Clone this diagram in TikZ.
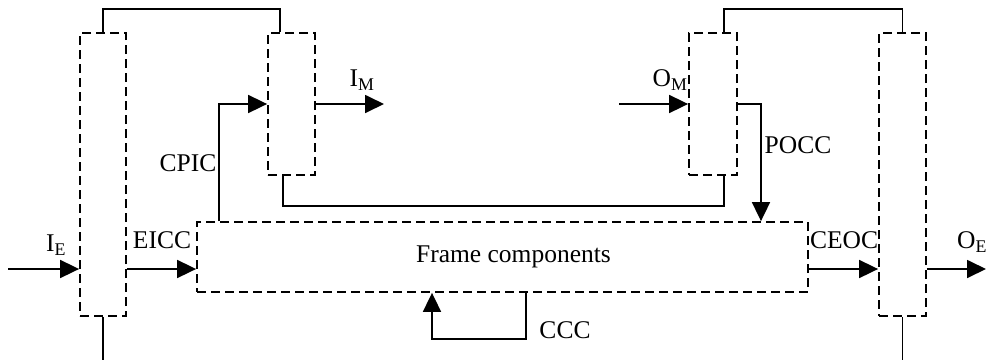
\documentclass[tikz,border=0pt]{standalone}
\usepackage{fontspec}
\setmainfont{Liberation Serif}
\usetikzlibrary{arrows.meta}

\begin{document}
\begin{tikzpicture}[x=1pt, y=-1pt, >={Triangle[length=19pt,width=18pt]},
    line width=1.8pt,
    dashbox/.style={draw, dash pattern=on 9pt off 5pt, inner sep=0pt},
    lbl/.style={font=\fontsize{25.5}{30}\selectfont, inner sep=0pt}]

    \useasboundingbox (0,0) rectangle (986,360);

    % free ends of the outer connectors
    \coordinate (IE) at (8,269);
    \coordinate (IM) at (384,104);
    \coordinate (OM) at (619,104);
    \coordinate (OE) at (986,269);
    \coordinate (bot) at (0,360);

    % dashed boxes
    \node [dashbox, minimum width=46pt, minimum height=283pt] (inE) at (103,174.5) {};
    \node [dashbox, minimum width=47pt, minimum height=142pt] (inM) at (291.5,104) {};
    \node [dashbox, minimum width=48pt, minimum height=142pt] (outM) at (713,104) {};
    \node [dashbox, minimum width=47pt, minimum height=283pt] (outE) at (902.5,174.5) {};
    \node [dashbox, minimum width=611pt, minimum height=70pt] (frame) at (502.5,257) {};
    \node [lbl] (frametext) at (513.5,257) {Frame components};

    % brackets between the boxes
    \draw (inE.north) -- ++(0,-23) -| ([xshift=-11.5pt]inM.north);
    \draw ([xshift=11pt]outM.north) -- ++(0,-23) -| (outE.north);
    \draw ([xshift=-8.5pt]inM.south) -- ++(0,30) -| ([xshift=11pt]outM.south);
    \draw (inE.south) -- (inE.south |- bot);
    \draw (outE.south) -- (outE.south |- bot);

    % arrows
    \draw[->] (IE) -- (inE.west |- IE);
    \draw[->] (inE.east |- IE) -- (frame.west |- IE);
    \draw[->] (frame.east |- IE) -- (outE.west |- IE);
    \draw[->] (outE.east |- IE) -- (OE);
    \draw[->] ([xshift=-283.5pt]frame.north) |- (inM.west);
    \draw[->] (inM.east) -- (IM);
    \draw[->] (OM) -- (outM.west);
    \draw[->] (outM.east) -| ([xshift=258.5pt]frame.north);
    \draw[->] ([xshift=23.5pt]frame.south) -- ++(0,46) -| ([xshift=-70.5pt]frame.south);

    % labels
    \node [lbl] (lIE) at (56,245) {I\textsubscript{E}};
    \node [lbl] (lEICC) at (162,240) {EICC};
    \node [lbl] (lCPIC) at (188,163) {CPIC};
    \node [lbl] (lIM) at (362,80) {I\textsubscript{M}};
    \node [lbl] (lOM) at (670,80) {O\textsubscript{M}};
    \node [lbl] (lPOCC) at (798,145) {POCC};
    \node [lbl] (lCEOC) at (844,240) {CEOC};
    \node [lbl] (lOE) at (972,242) {O\textsubscript{E}};
    \node [lbl] (lCCC) at (565,330) {CCC};

\end{tikzpicture}
\end{document}
